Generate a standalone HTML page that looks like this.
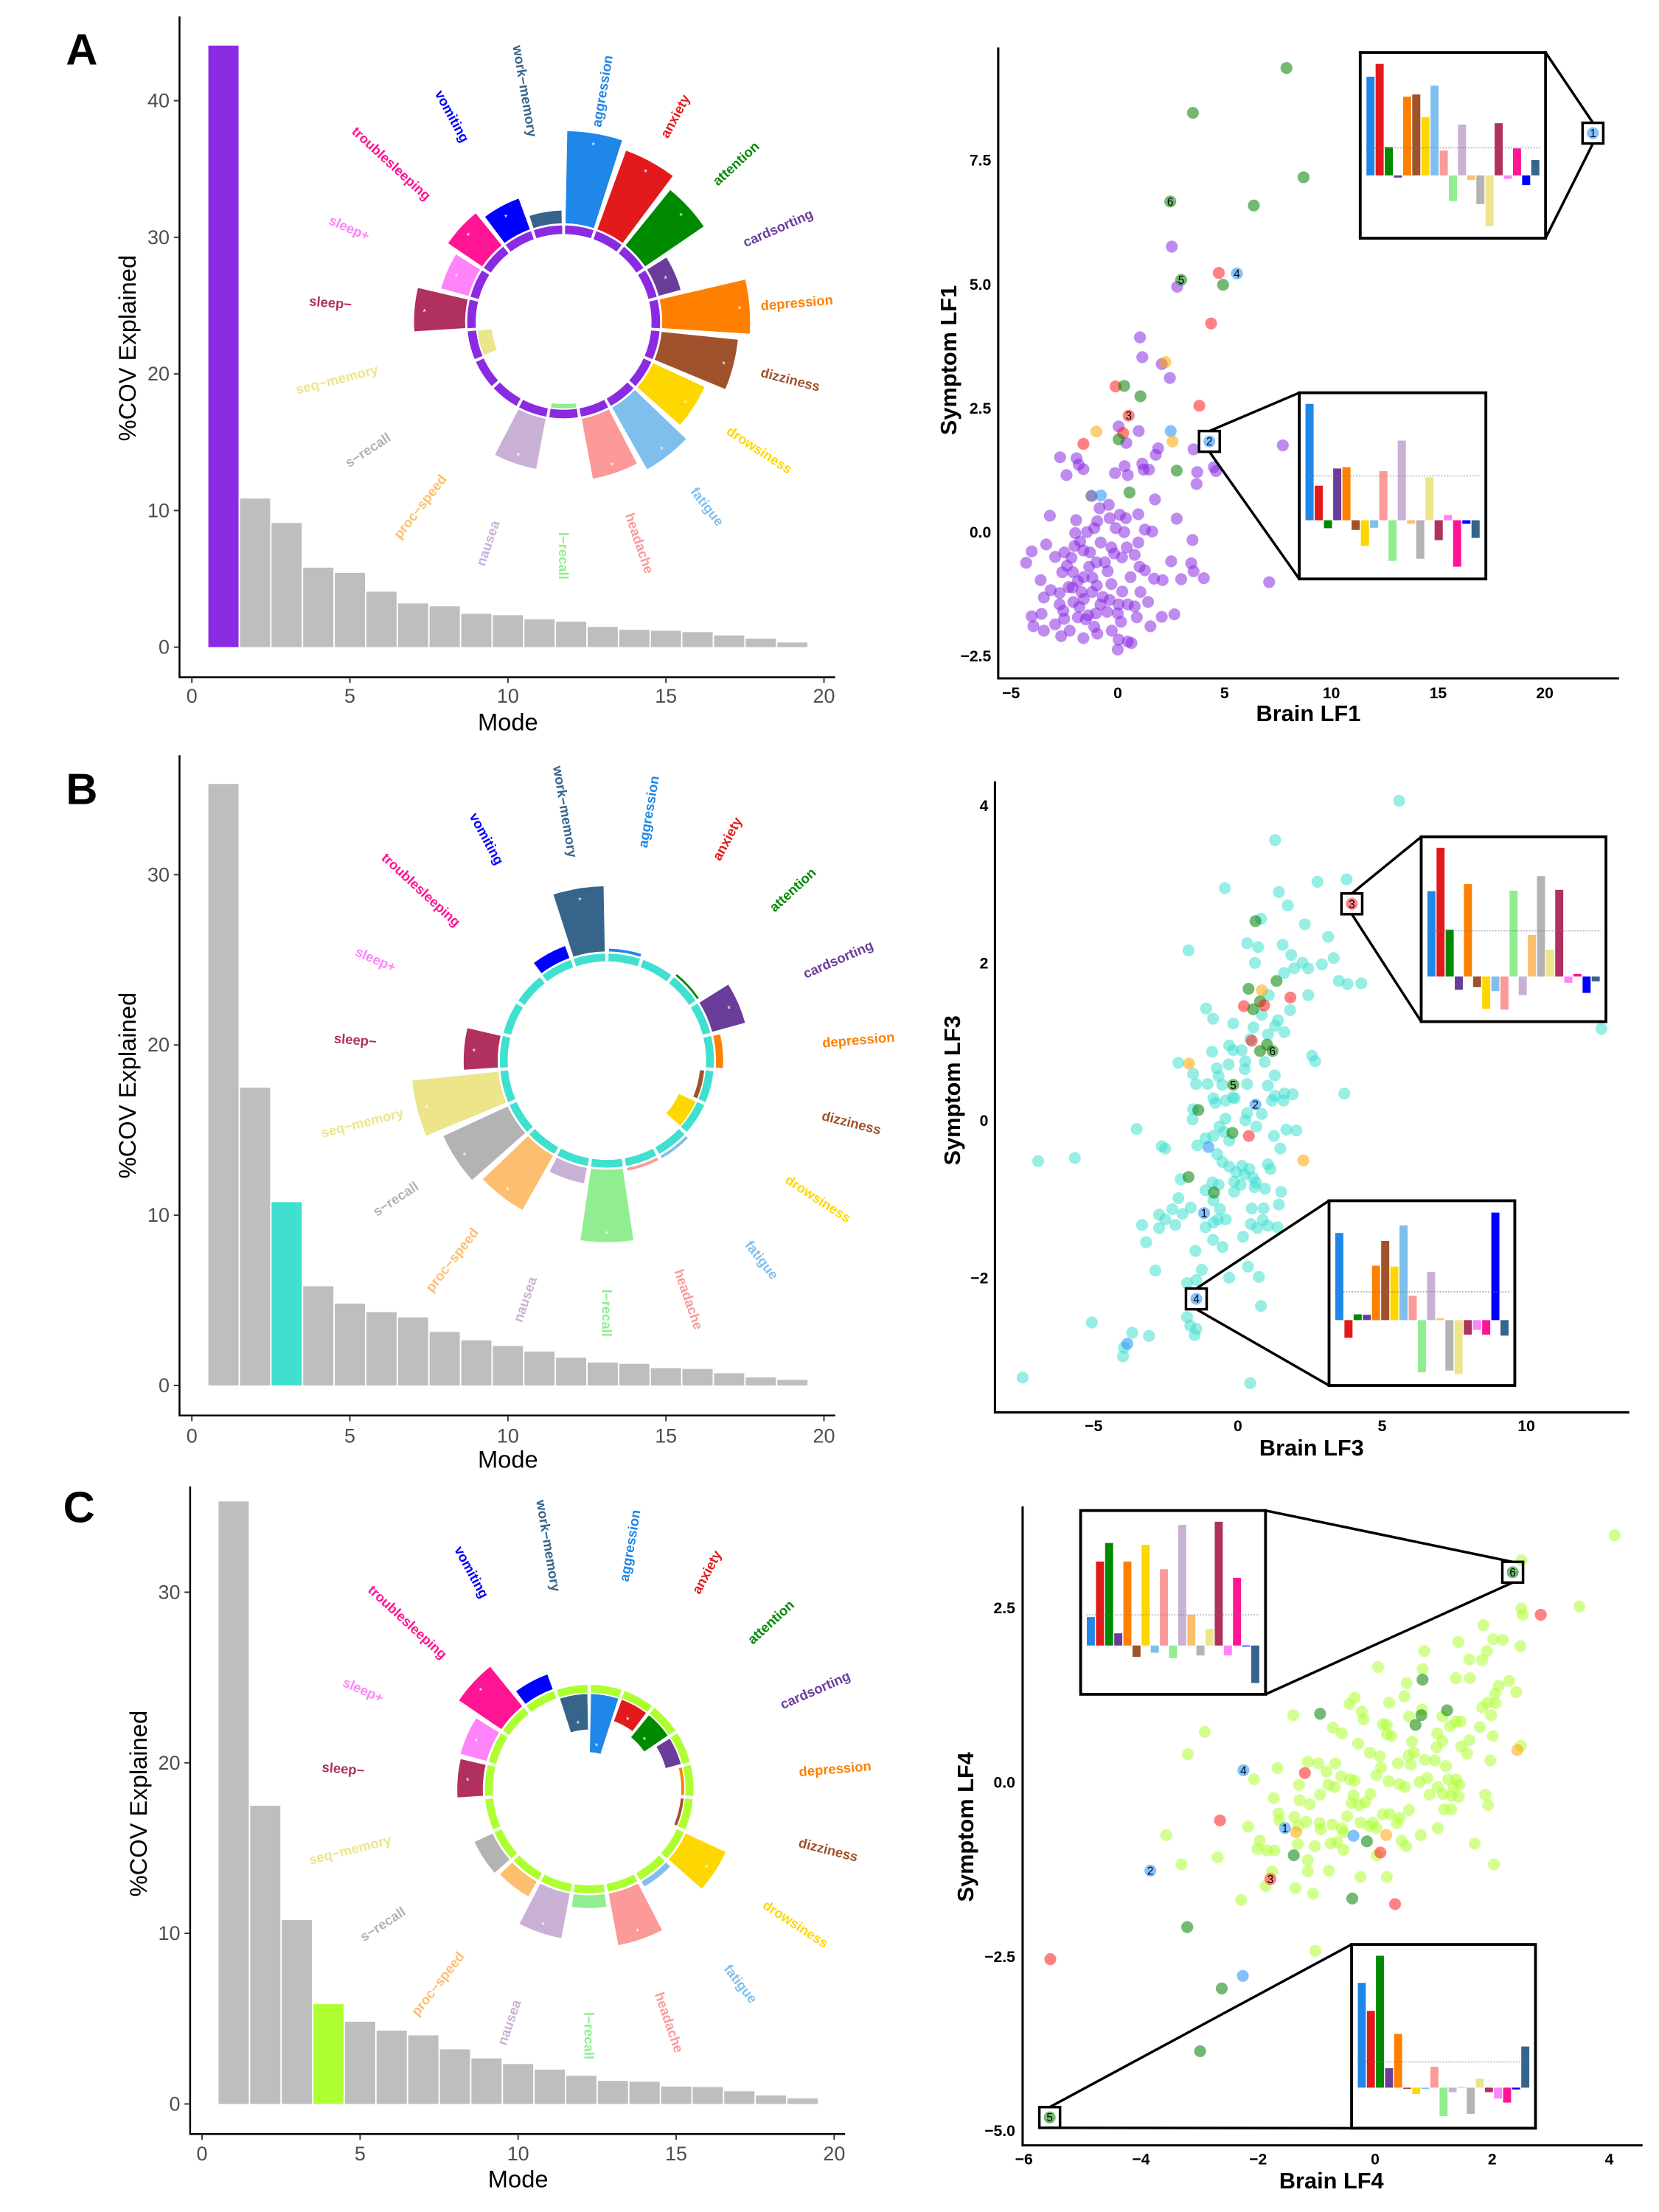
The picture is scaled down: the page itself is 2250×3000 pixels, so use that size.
<!DOCTYPE html>
<html><head><meta charset="utf-8"><style>
html,body{margin:0;padding:0;background:#fff}
svg{display:block}
text{font-family:"Liberation Sans",Arial,sans-serif}
</style></head><body>
<svg id="fig" xmlns="http://www.w3.org/2000/svg" width="2250" height="3000" viewBox="0 0 1170 1560"></svg>
<script>
// ---------- DATA ----------
const categories = ["aggression","anxiety","attention","cardsorting","depression","dizziness","drowsiness","fatigue","headache","l\u2212recall","nausea","proc\u2212speed","s\u2212recall","seq\u2212memory","sleep\u2212","sleep+","troublesleeping","vomiting","work\u2212memory"];
const catColors = ["#1f87e8","#e31a1c","#008a00","#6a3d9a","#ff8000","#a0522d","#ffd700","#7fbfed","#fb9a99","#90ee90","#c9b1d6","#fdbf6f","#b3b3b3","#ede58a","#b03060","#ff83fa","#ff1493","#0000ff","#36648b"];
const modes = [1,2,3,4,5,6,7,8,9,10,11,12,13,14,15,16,17,18,19];
const covA = [44.03,10.88,9.09,5.82,5.44,4.06,3.2,2.99,2.44,2.34,2.03,1.86,1.48,1.27,1.2,1.1,0.86,0.62,0.34];
const covB = [35.33,17.49,10.77,5.83,4.81,4.31,4.0,3.15,2.65,2.32,1.99,1.63,1.35,1.27,1.02,0.97,0.72,0.47,0.33];
const covC = [35.32,17.48,10.78,5.85,4.82,4.3,4.02,3.2,2.67,2.34,2.01,1.65,1.35,1.3,1.02,0.99,0.74,0.5,0.33];
const xTicksCov = [0,5,10,15,20];
const yTicksCovA = [0,10,20,30,40];
const yTicksCovB = [0,10,20,30];
const yTicksCovC = [0,10,20,30];
const wedgeA = [65,59,50,16,62,54,40,50,43,-3,36,0,0,-10,36,20,29,23,9];
const wedgeB = [2,0,1.5,24,5,-3,-13,2,2,51,11,44,50,61,24,0,0,9,46];
const wedgeC = [-41,-16,-20,-11,-2,-2,31,4,37,9,32,12,14,0,18,19,36,11,-25];

const ptColors = {g:"#008000",r:"#ff1a1a",o:"#ffa500",b:"#1e90ff",d:"#3b2a85"};
const scatA_bg = [[2.53,5.77],[2.78,4.96],[1.04,3.94],[1.15,3.54],[2.06,3.4],[2.44,3.12],[0.04,2.14],[0.98,2.05],[0.4,1.81],[7.73,1.76],[3.55,1.68],[-2.7,1.52],[-1.93,1.5],[-1.83,1.37],[-1.61,1.28],[-2.4,1.16],[1.89,1.7],[1.78,1.57],[1.15,1.39],[1.21,1.27],[1.46,1.27],[0.32,1.34],[-0.13,1.2],[0.47,1.16],[3.72,1.22],[3.69,0.98],[4.5,1.32],[4.6,1.24],[1.74,0.67],[-0.42,0.56],[-0.85,0.49],[-3.18,0.34],[0.1,0.36],[-0.38,0.29],[0.38,0.29],[0.96,0.37],[2.76,0.28],[-1.95,0.25],[-0.96,0.23],[-1.44,0.01],[-1.99,-0.01],[-1.1,0.09],[-0.1,0.09],[0.3,0.01],[1.27,0.06],[1.61,0.02],[3.5,-0.15],[-3.35,-0.24],[-4.03,-0.38],[-4.29,-0.61],[-2.93,-0.49],[-2.5,-0.4],[-2.02,-0.27],[-1.76,-0.18],[-1.61,-0.36],[-2.17,-0.51],[-2.38,-0.67],[-0.17,-0.42],[0.42,-0.3],[0.79,-0.45],[0.96,-0.2],[2.5,-0.58],[3.44,-0.62],[3.55,-0.78],[-3.61,-0.96],[-3.14,-1.16],[-2.72,-1.22],[-2.12,-1.11],[-1.87,-0.98],[-1.34,-0.69],[-1.19,-0.91],[-0.98,-1.07],[-0.47,-0.78],[-0.3,-1.04],[0.21,-1.19],[1.02,-0.69],[1.27,-0.76],[1.7,-0.93],[2.1,-0.96],[2.97,-0.94],[4.03,-0.92],[7.09,-1.0],[-3.46,-1.31],[-2.72,-1.45],[-2.08,-1.4],[-1.59,-1.34],[-2.55,-1.58],[-3.57,-1.64],[-4.03,-1.69],[-3.95,-1.89],[-3.46,-1.98],[-2.93,-1.85],[-2.51,-1.74],[-1.87,-1.71],[-1.38,-1.67],[-1.02,-1.63],[-0.81,-1.45],[-0.38,-1.36],[0.04,-1.45],[0.47,-1.45],[0.79,-1.49],[1.06,-1.2],[1.42,-1.4],[0.89,-1.71],[1.53,-1.89],[2.06,-1.7],[2.65,-1.65],[0,-1.63],[0.15,-1.8],[0.04,-2.16],[0.47,-2.2],[0.64,-2.23],[0,-2.36],[-0.96,-2.04],[-1.61,-2.13],[-2.25,-1.98],[-2.65,-2.09],[-0.28,-1.98],[-1.2,-1.2],[-1.6,-0.9],[-2.1,-0.8],[-1.8,-1.5],[-0.6,-0.6],[-0.3,-0.3],[-0.8,-0.2],[0.2,-0.5],[-1.3,-0.4],[-2.3,-1.1],[-0.5,-1.6],[-1.1,-1.9],[-1.5,-1.75],[-1.7,-1.2],[-0.7,-1.3],[-2.6,-0.8],[-1.0,-0.6],[0.6,-0.9]];
const scatA_sp = [[7.9,9.375,"g",""],[3.52,8.47,"g",""],[8.7,7.17,"g",""],[6.37,6.6,"g",""],[2.46,6.68,"g","6"],[4.73,5.24,"r",""],[5.58,5.23,"b","4"],[2.97,5.1,"g","5"],[4.93,5.0,"g",""],[4.37,4.22,"r",""],[2.23,3.44,"o",""],[-0.1,2.95,"r",""],[0.3,2.96,"g",""],[1.06,2.75,"g",""],[3.82,2.56,"r",""],[0.51,2.36,"r","3"],[-1.0,2.04,"o",""],[0.25,2.01,"r",""],[2.48,2.05,"b",""],[0.04,1.88,"g",""],[2.57,1.84,"o",""],[-1.61,1.79,"r",""],[4.29,1.84,"b","2"],[2.76,1.25,"g",""],[0.55,0.81,"g",""],[-1.23,0.74,"d",""],[-0.79,0.75,"b",""],[22.25,8.06,"b","1"]];
const scatB_bg = [[5.59,4.07],[1.29,3.57],[-0.45,2.96],[1.42,2.91],[1.73,2.74],[2.76,3.04],[3.77,3.07],[0.8,2.57],[2.32,2.5],[3.13,2.34],[-1.71,2.17],[0.32,2.26],[0.7,2.21],[1.55,2.24],[1.85,2.11],[0.59,2.01],[2.24,2.01],[2.44,1.94],[2.91,1.99],[3.32,2.07],[3.5,1.78],[3.8,1.74],[4.28,1.75],[1.6,1.88],[1.95,1.94],[2.44,1.6],[1.07,1.6],[-1.1,1.43],[-0.86,1.3],[-0.16,1.24],[0.83,1.35],[1.81,1.41],[1.39,1.28],[1.29,1.21],[0.54,1.19],[1.04,1.1],[1.61,1.13],[0.43,1.04],[-0.3,0.96],[-0.16,0.9],[0.13,0.9],[-0.89,0.88],[-2.06,0.74],[-0.73,0.67],[-0.32,0.72],[0.26,0.76],[0.93,0.75],[0.24,0.66],[2.57,0.83],[2.68,0.76],[-1.55,0.6],[-0.67,0.57],[1.28,0.58],[-1.45,0.47],[-1.05,0.47],[-0.54,0.46],[0.32,0.47],[1.04,0.45],[3.69,0.35],[-0.85,0.29],[-0.18,0.3],[1.28,0.32],[1.61,0.35],[1.9,0.34],[1.18,0.26],[-0.78,0.23],[-0.42,0.26],[-0.11,0.29],[1.58,0.26],[-1.55,0.15],[0.32,0.1],[0.83,0.09],[-1.57,0.02],[-0.43,0.03],[0.26,0.01],[-0.64,-0.07],[0.64,-0.07],[-3.51,-0.1],[-0.48,-0.14],[1.68,-0.11],[2.03,-0.12],[1.25,-0.19],[-1.12,-0.22],[-0.85,-0.19],[-0.3,-0.25],[-2.64,-0.32],[-2.52,-0.35],[-1.41,-0.31],[1.47,-0.35],[-0.72,-0.42],[-0.54,-0.52],[-6.92,-0.51],[-5.65,-0.47],[-0.3,-0.58],[-0.06,-0.65],[0.14,-0.57],[0.4,-0.61],[1.04,-0.55],[1.13,-0.61],[0.24,-0.68],[0.53,-0.72],[-1.98,-0.74],[-0.13,-0.77],[-0.88,-0.78],[-0.67,-0.81],[0.1,-0.81],[0.58,-0.84],[0.62,-0.78],[0.94,-0.86],[-1.12,-0.88],[-0.13,-0.9],[1.5,-0.9],[-2.06,-0.98],[-0.85,-1.01],[1.42,-1.06],[-1.63,-1.1],[-0.62,-1.12],[0.48,-1.11],[0.89,-1.11],[-2.27,-1.12],[-1.92,-1.18],[-2.73,-1.19],[-2.52,-1.25],[-0.69,-1.25],[-0.42,-1.25],[0.86,-1.26],[-3.32,-1.32],[-2.17,-1.32],[-2.73,-1.36],[-1.12,-1.35],[-0.85,-1.29],[0.45,-1.31],[0.67,-1.36],[1.04,-1.33],[1.37,-1.35],[0.18,-1.47],[-3.18,-1.54],[-0.86,-1.51],[-0.53,-1.6],[-1.47,-1.65],[0.35,-1.85],[-2.86,-1.9],[-1.25,-1.89],[0.73,-1.98],[-0.3,-1.99],[-1.44,-2.02],[-1.76,-2.06],[0.8,-2.35],[-1.76,-2.49],[-1.65,-2.6],[-1.44,-2.64],[-1.5,-2.72],[-5.06,-2.56],[-3.66,-2.69],[-3.08,-2.73],[-3.95,-2.88],[-3.98,-2.99],[-7.46,-3.26],[0.43,-3.33],[12.6,1.17]];
const scatB_sp = [[0.61,2.54,"g",""],[1.34,1.78,"g",""],[0.37,1.68,"g",""],[0.83,1.66,"o",""],[0.77,1.52,"g",""],[0.21,1.46,"r",""],[0.53,1.42,"g",""],[0.91,1.47,"r",""],[1.82,1.57,"r",""],[0.48,1.02,"r",""],[1.01,0.97,"g",""],[0.77,0.89,"g",""],[-1.69,0.73,"o",""],[-1.37,0.14,"g",""],[-0.19,-0.15,"g",""],[0.38,-0.19,"r",""],[-1.02,-0.33,"b",""],[2.27,-0.5,"o",""],[-1.71,-0.71,"g",""],[-0.83,-0.91,"g",""],[-3.83,-2.83,"b",""],[3.95,2.76,"r","3"],[-1.44,-2.26,"b","4"],[1.2,0.89,"g","6"],[-0.16,0.46,"g","5"],[0.61,0.21,"b","2"],[-1.17,-1.17,"b","1"]];
const scatC_bg = [[4.09,3.55],[2.5,3.19],[3.49,2.53],[2.5,2.5],[2.52,2.41],[1.85,2.26],[1.42,2.02],[2.02,2.06],[2.18,2.05],[2.48,1.96],[0.84,1.89],[1.91,1.89],[1.61,1.77],[1.83,1.76],[0.05,1.66],[0.81,1.63],[1.38,1.5],[1.62,1.5],[0.54,1.43],[2.29,1.46],[2.11,1.39],[2.41,1.3],[2.05,1.28],[0.5,1.24],[-0.35,1.22],[-0.44,1.13],[0.24,1.15],[1.92,1.15],[2.06,1.14],[1.83,1.08],[-0.23,1.02],[0.8,1.05],[-1.4,0.97],[0.58,0.95],[1.15,0.95],[-0.2,0.91],[1.98,0.97],[1.38,0.88],[1.46,0.88],[0.13,0.84],[0.2,0.83],[1.28,0.81],[1.79,0.8],[-0.72,0.79],[-2.91,0.73],[-0.57,0.71],[0.2,0.7],[0.28,0.67],[1.06,0.71],[2.01,0.67],[0.63,0.59],[1.15,0.6],[1.61,0.61],[-0.29,0.56],[1.05,0.51],[1.47,0.52],[2.49,0.53],[-0.09,0.43],[0.08,0.38],[0.57,0.39],[0.67,0.43],[1.57,0.42],[-3.2,0.41],[1.97,0.32],[0.39,0.28],[0.85,0.33],[1.02,0.32],[-1.15,0.3],[0.61,0.26],[1.21,0.24],[-0.97,0.28],[-0.68,0.28],[-1.67,0.21],[0.1,0.22],[-0.83,0.16],[0.02,0.11],[0.89,0.07],[1.25,0.05],[1.39,0.05],[-2.07,0.05],[-0.58,0.09],[-0.43,0.05],[-0.35,0.03],[0.23,0.02],[0.41,-0.02],[0.76,0.01],[0.51,-0.06],[-1.3,-0.03],[-0.8,-0.03],[-0.69,-0.06],[1.07,-0.06],[1.34,-0.07],[1.44,-0.03],[0.93,-0.17],[1.16,-0.16],[1.43,-0.2],[1.3,-0.19],[1.88,-0.17],[-0.94,-0.17],[-0.37,-0.18],[-0.08,-0.16],[-1.73,-0.22],[-1.29,-0.25],[-0.4,-0.29],[-0.17,-0.28],[-0.27,-0.32],[1.93,-0.32],[-1.12,-0.31],[1.18,-0.38],[1.3,-0.38],[0.58,-0.39],[-1.65,-0.44],[0.13,-0.45],[0.25,-0.45],[-1.38,-0.49],[-0.48,-0.48],[0.42,-0.5],[-1.64,-0.54],[-1.18,-0.56],[-0.25,-0.57],[-0.04,-0.57],[0.37,-0.58],[-2.17,-0.63],[-0.95,-0.58],[-0.73,-0.6],[-0.1,-0.62],[0.02,-0.65],[-0.57,-0.65],[1.07,-0.65],[-1.31,-0.62],[-0.93,-0.67],[-3.57,-0.75],[-0.54,-0.71],[0.78,-0.75],[-1.97,-0.83],[-0.65,-0.85],[0.45,-0.83],[1.7,-0.87],[-1.32,-0.88],[-1.03,-0.91],[-0.76,-0.87],[-0.54,-0.96],[-2.01,-0.95],[-1.85,-0.97],[-1.72,-0.97],[0.53,-0.91],[0.03,-1.04],[-2.69,-1.07],[-1.15,-1.11],[-3.31,-1.17],[2.03,-1.17],[-1.76,-1.27],[-1.15,-1.27],[-0.79,-1.26],[-0.25,-1.35],[0.2,-1.35],[-1.87,-1.48],[-1.36,-1.51],[-1.06,-1.59],[-2.29,-1.68],[-1.02,-2.41]];
const scatC_sp = [[2.83,2.41,"r",""],[-1.2,0.14,"r",""],[-2.65,-0.54,"r",""],[0.09,-1.0,"r",""],[0.34,-1.74,"r",""],[-5.55,-2.53,"r",""],[0.81,1.48,"g",""],[-0.94,0.99,"g",""],[0.79,0.97,"g",""],[0.69,0.83,"g",""],[1.23,1.04,"g",""],[-0.14,-0.84,"g",""],[-1.39,-1.04,"g",""],[-0.39,-1.66,"g",""],[-3.21,-2.07,"g",""],[-2.62,-2.95,"g",""],[-2.99,-3.85,"g",""],[-0.37,-0.76,"b",""],[-2.26,-2.77,"b",""],[2.43,0.47,"o",""],[0.19,-0.75,"o",""],[-1.35,-0.71,"o",""],[2.35,3.02,"g","6"],[-5.56,-4.8,"g","5"],[-2.25,0.18,"b","4"],[-3.84,-1.26,"b","2"],[-1.54,-0.65,"b","1"],[-1.79,-1.38,"r","3"]];
// inset loadings (alphabetical category order)
const insetA1 = [2.23,2.52,0.64,-0.05,1.78,1.83,1.32,2.03,0.56,-0.58,1.15,-0.1,-0.65,-1.15,1.18,-0.08,0.61,-0.22,0.35];
const insetA2 = [2.63,0.78,-0.18,1.17,1.2,-0.22,-0.58,-0.17,1.11,-0.92,1.8,-0.08,-0.87,0.97,-0.45,0.12,-1.05,-0.08,-0.4];
const insetB1 = [1.93,2.91,1.06,-0.3,2.09,-0.24,-0.73,-0.33,-0.75,1.94,-0.42,0.94,2.27,0.61,1.96,-0.14,0.06,-0.37,-0.11];
const insetB2 = [1.97,-0.4,0.13,0.12,1.23,1.79,1.21,2.14,0.55,-1.18,1.09,0.04,-1.14,-1.22,-0.33,-0.22,-0.33,2.43,-0.35];
const insetC1 = [0.63,1.86,2.27,0.27,1.86,-0.25,2.23,-0.16,1.69,-0.28,2.67,0.68,-0.22,0.37,2.74,-0.22,1.5,-0.02,-0.83];
const insetC2 = [2.32,1.7,2.92,0.43,1.19,-0.03,-0.14,-0.03,0.46,-0.63,-0.1,0.02,-0.58,0.2,-0.1,-0.24,-0.33,-0.04,0.91];

// ---------- HELPERS ----------
const NS = "http://www.w3.org/2000/svg";
const svg = document.getElementById("fig");
function mk(tag, attrs, parent) {
  const el = document.createElementNS(NS, tag);
  for (const k in attrs) el.setAttribute(k, attrs[k]);
  (parent || svg).appendChild(el);
  return el;
}
function txt(str, attrs, parent) {
  const el = mk("text", attrs, parent);
  el.textContent = str;
  return el;
}
function fmtTick(v, dec) {
  const s = Math.abs(v).toFixed(dec);
  return (v < 0 ? "\u2212" : "") + s;
}

// ---------- COV BAR CHART ----------
function covChart(cfg, values, yTicks) {
  const g = mk("g", {});
  
  
  const sx = v => cfg.x0 + v * cfg.xu;
  const sy = v => cfg.y0 - v * cfg.yu;
  values.forEach((v, i) => {
    const m = modes[i];
    const r = mk("rect", {x: sx(m - 0.5) + 0.5, y: sy(v), width: cfg.xu - 1, height: sy(0) - sy(v),
      fill: i === cfg.hl ? cfg.hlColor : "#bebebe"}, g);
    
    
  });
  const ax = mk("path", {d: `M${cfg.left},${cfg.top} V${cfg.bottom} H${cfg.right}`, fill: "none", stroke: "#000", "stroke-width": 1.3}, g);
  
  
  xTicksCov.forEach(t => {
    const x = sx(t);
    mk("line", {x1: x, x2: x, y1: cfg.bottom, y2: cfg.bottom + 4, stroke: "#333", "stroke-width": 1}, g);
    const l = txt(String(t), {x: x, y: cfg.xlab, "font-size": 14, fill: "#4d4d4d", "text-anchor": "middle", "dominant-baseline": "central"}, g);
    
    
  });
  yTicks.forEach(t => {
    const y = sy(t);
    mk("line", {x1: cfg.left - 4, x2: cfg.left, y1: y, y2: y, stroke: "#333", "stroke-width": 1}, g);
    const l = txt(String(t), {x: cfg.left - 7, y: y, "font-size": 14, fill: "#4d4d4d", "text-anchor": "end", "dominant-baseline": "central"}, g);
    
    
  });
  const xt = txt("Mode", {x: (cfg.x0 + sx(20)) / 2, y: cfg.modeY, "font-size": 17, "text-anchor": "middle", "dominant-baseline": "central"}, g);
  
  
  const yt = txt("%COV Explained", {x: 0, y: 0, "font-size": 17, "text-anchor": "middle", "dominant-baseline": "central",
    transform: `translate(${cfg.ytx},${cfg.yty}) rotate(-90)`}, g);
  
  
  const L = txt(cfg.letter, {x: cfg.lx, y: cfg.ly, "font-size": 31, "font-weight": "bold", "text-anchor": "middle", "dominant-baseline": "central"}, g);
  
  
}

// ---------- CIRCULAR PLOT ----------
function polar(cx, cy, r, deg) {
  const a = deg * Math.PI / 180;
  return [cx + r * Math.sin(a), cy - r * Math.cos(a)];
}
function sector(cx, cy, r1, r2, a1, a2) {
  const p1 = polar(cx, cy, r2, a1), p2 = polar(cx, cy, r2, a2), p3 = polar(cx, cy, r1, a2), p4 = polar(cx, cy, r1, a1);
  return `M${p1[0]},${p1[1]} A${r2},${r2} 0 0 1 ${p2[0]},${p2[1]} L${p3[0]},${p3[1]} A${r1},${r1} 0 0 0 ${p4[0]},${p4[1]} Z`;
}
function circPlot(cfg, vals) {
  const g = mk("g", {});
  
  
  const step = 360 / categories.length;
  categories.forEach((c, k) => {
    const th = (k + 0.5) * step;
    const seg = mk("path", {d: sector(cfg.cx, cfg.cy, cfg.rin, cfg.rout, th - step / 2 + 0.9, th + step / 2 - 0.9), fill: cfg.color}, g);
    
    
    const v = vals[k];
    if (v !== 0) {
      let r1, r2;
      if (v > 0) { r1 = cfg.rout + 1.5; r2 = r1 + v; } else { r2 = cfg.rin - 1; r1 = r2 + v; }
      const w = mk("path", {d: sector(cfg.cx, cfg.cy, r1, r2, th - step / 2 + 1.1, th + step / 2 - 1.1), fill: catColors[k]}, g);
      
      
      if (Math.abs(v) >= 15) {
        const sp = polar(cfg.cx, cfg.cy, v > 0 ? r2 - 7 : r1 + 6, th);
        txt("*", {x: sp[0], y: sp[1] + 2, "font-size": 6, fill: "#fff", "text-anchor": "middle", "dominant-baseline": "central"}, g);
      }
    }
    const lp = polar(cfg.cx, cfg.cy, cfg.rlab, th);
    const rot = th <= 180 ? th - 90 : th + 90;
    const lab = txt(c, {x: 0, y: 0, "font-size": 9.6, "font-weight": "bold", fill: catColors[k], "text-anchor": "middle", "dominant-baseline": "central",
      transform: `translate(${lp[0]},${lp[1]}) rotate(${rot})`}, g);
    
    
  });
}

// ---------- SCATTER ----------
function scatter(cfg, bg, sp, insets) {
  const g = mk("g", {});
  
  
  const sx = v => cfg.x0 + v * cfg.xu;
  const sy = v => cfg.y0 - v * cfg.yu;
  bg.forEach(p => {
    const c = mk("circle", {cx: sx(p[0]), cy: sy(p[1]), r: 4.2, fill: cfg.color, "fill-opacity": 0.55}, g);
    
    
  });
  sp.forEach(p => {
    const c = mk("circle", {cx: sx(p[0]), cy: sy(p[1]), r: 4.2, fill: ptColors[p[2]], "fill-opacity": 0.55}, g);
    
    
    if (p[3]) {
      const t = txt(p[3], {x: sx(p[0]), y: sy(p[1]) + 0.5, "font-size": 8, "text-anchor": "middle", "dominant-baseline": "central"}, g);
      
      
    }
  });
  const ax = mk("path", {d: `M${cfg.left},${cfg.top} V${cfg.bottom} H${cfg.right}`, fill: "none", stroke: "#000", "stroke-width": 1.6}, g);
  
  
  cfg.xticks.forEach(t => {
    const l = txt(fmtTick(t, 0), {x: sx(t), y: cfg.xlab, "font-size": 11, "font-weight": "bold", "text-anchor": "middle", "dominant-baseline": "central"}, g);
    
    
  });
  cfg.yticks.forEach(t => {
    const l = txt(fmtTick(t, cfg.ydec), {x: cfg.ylabEnd, y: sy(t), "font-size": 11, "font-weight": "bold", "text-anchor": "end", "dominant-baseline": "central"}, g);
    
    
  });
  const xt = txt(cfg.xtitle, {x: cfg.xtx, y: cfg.xty, "font-size": 16, "font-weight": "bold", "text-anchor": "middle", "dominant-baseline": "central"}, g);
  
  
  const yt = txt(cfg.ytitle, {x: 0, y: 0, "font-size": 16, "font-weight": "bold", "text-anchor": "middle", "dominant-baseline": "central",
    transform: `translate(${cfg.ytx},${cfg.yty}) rotate(-90)`}, g);
  
  

  insets.forEach(ins => {
    const px = sx(ins.pt[0]), py = sy(ins.pt[1]), h = 7.3;
    const box = mk("rect", {x: px - h, y: py - h, width: 2 * h, height: 2 * h, fill: "none", stroke: "#000", "stroke-width": 1.8}, g);
    
    
    const ex = (ins.x + ins.w / 2 < px) ? ins.x + ins.w : ins.x;
    mk("line", {x1: px, y1: py - h, x2: ex, y2: ins.y, stroke: "#000", "stroke-width": 1.8}, g);
    mk("line", {x1: px, y1: py + h, x2: ex, y2: ins.y + ins.h, stroke: "#000", "stroke-width": 1.8}, g);
    const ig = mk("g", {}, g);
    
    
    mk("rect", {x: ins.x, y: ins.y, width: ins.w, height: ins.h, fill: "#fff"}, ig);
    const base = ins.y + ins.base;
    const pitch = (ins.w - 8) / ins.vals.length;
    ins.vals.forEach((v, k) => {
      const bh = v * ins.ppu;
      const b = mk("rect", {x: ins.x + 4 + k * pitch + pitch * 0.06, y: Math.min(base, base - bh), width: pitch * 0.88, height: Math.max(0.6, Math.abs(bh)), fill: catColors[k]}, ig);
      
      
    });
    const dy = base - ins.dot * ins.ppu;
    mk("line", {x1: ins.x + 4, x2: ins.x + ins.w - 4, y1: dy, y2: dy, stroke: "#777", "stroke-width": 0.5, "stroke-dasharray": "1,1"}, ig);
    mk("rect", {x: ins.x, y: ins.y, width: ins.w, height: ins.h, fill: "none", stroke: "#000", "stroke-width": 2}, ig);
  });
}

// ---------- BUILD ----------
covChart({name: "cov-chart-a", x0: 135.3, xu: 22.29, y0: 456.4, yu: 9.635, left: 126.6, bottom: 477.6, top: 11.6, right: 589,
  xlab: 491, modeY: 509, ytx: 89.6, yty: 245.5, letter: "A", lx: 57.7, ly: 34.8, hl: 0, hlColor: "#8a2be2"}, covA, yTicksCovA);
covChart({name: "cov-chart-b", x0: 135.3, xu: 22.29, y0: 977.1, yu: 12.007, left: 126.6, bottom: 998.3, top: 532.6, right: 589,
  xlab: 1012.6, modeY: 1029, ytx: 89.6, yty: 765.5, letter: "B", lx: 57.7, ly: 556.5, hl: 2, hlColor: "#40e0d0"}, covB, yTicksCovB);
covChart({name: "cov-chart-c", x0: 142.5, xu: 22.29, y0: 1483.8, yu: 12.03, left: 134.1, bottom: 1505, top: 1048.3, right: 596,
  xlab: 1519, modeY: 1536.6, ytx: 97.5, yty: 1272, letter: "C", lx: 55.7, ly: 1063, hl: 3, hlColor: "#adff2f"}, covC, yTicksCovC);

circPlot({name: "circular-loadings-a", cx: 397.5, cy: 227, rin: 62, rout: 68, rlab: 165, color: "#8a2be2"}, wedgeA);
circPlot({name: "circular-loadings-b", cx: 428, cy: 748, rin: 70, rout: 75.5, rlab: 178, color: "#40e0d0"}, wedgeB);
circPlot({name: "circular-loadings-c", cx: 415.5, cy: 1261.7, rin: 68, rout: 73.5, rlab: 174, color: "#adff2f"}, wedgeC);

scatter({name: "scatter-lf1", x0: 788.3, xu: 15.06, y0: 375.6, yu: 34.95, left: 704, bottom: 478.4, top: 33.5, right: 1141.8,
  color: "#8a2be2", xticks: [-5,0,5,10,15,20], yticks: [-2.5,0,2.5,5,7.5], ydec: 1, xlab: 489, ylabEnd: 699,
  xtitle: "Brain LF1", xtx: 922.7, xty: 503, ytitle: "Symptom LF1", ytx: 669, yty: 254}, scatA_bg, scatA_sp, [
  {pt: [22.25, 8.06], x: 959.3, y: 37, w: 130.7, h: 131, base: 86.7, ppu: 31.2, dot: 0.62, vals: insetA1},
  {pt: [4.29, 1.84], x: 916.3, y: 277, w: 131.6, h: 131.3, base: 89.9, ppu: 31.2, dot: 1.0, vals: insetA2}]);
scatter({name: "scatter-lf3", x0: 873, xu: 20.35, y0: 790.6, yu: 55.5, left: 701.7, bottom: 996.1, top: 551, right: 1149,
  color: "#40e0d0", xticks: [-5,0,5,10], yticks: [-2,0,2,4], ydec: 0, xlab: 1006, ylabEnd: 697,
  xtitle: "Brain LF3", xtx: 925, xty: 1021, ytitle: "Symptom LF3", ytx: 671.5, yty: 769}, scatB_bg, scatB_sp, [
  {pt: [3.95, 2.76], x: 1002.3, y: 590.2, w: 130.3, h: 130.3, base: 98.5, ppu: 31.2, dot: 1.03, vals: insetB1},
  {pt: [-1.44, -2.26], x: 937.3, y: 846.8, w: 131, h: 130.3, base: 84.2, ppu: 31.2, dot: 0.64, vals: insetB2}]);
scatter({name: "scatter-lf4", x0: 969.8, xu: 41.28, y0: 1257.3, yu: 49.17, left: 721.2, bottom: 1513, top: 1062.4, right: 1158.4,
  color: "#adff2f", xticks: [-6,-4,-2,0,2,4], yticks: [-5,-2.5,0,2.5], ydec: 1, xlab: 1523, ylabEnd: 716,
  xtitle: "Brain LF4", xtx: 939, xty: 1538, ytitle: "Symptom LF4", ytx: 681, yty: 1288.5}, scatC_bg, scatC_sp, [
  {pt: [2.35, 3.02], x: 762.1, y: 1065.3, w: 130.4, h: 129.6, base: 95.2, ppu: 31.85, dot: 0.68, vals: insetC1},
  {pt: [-5.56, -4.8], x: 953.2, y: 1371.3, w: 129.7, h: 129.6, base: 101, ppu: 31.85, dot: 0.57, vals: insetC2}]);
</script>
</body></html>
